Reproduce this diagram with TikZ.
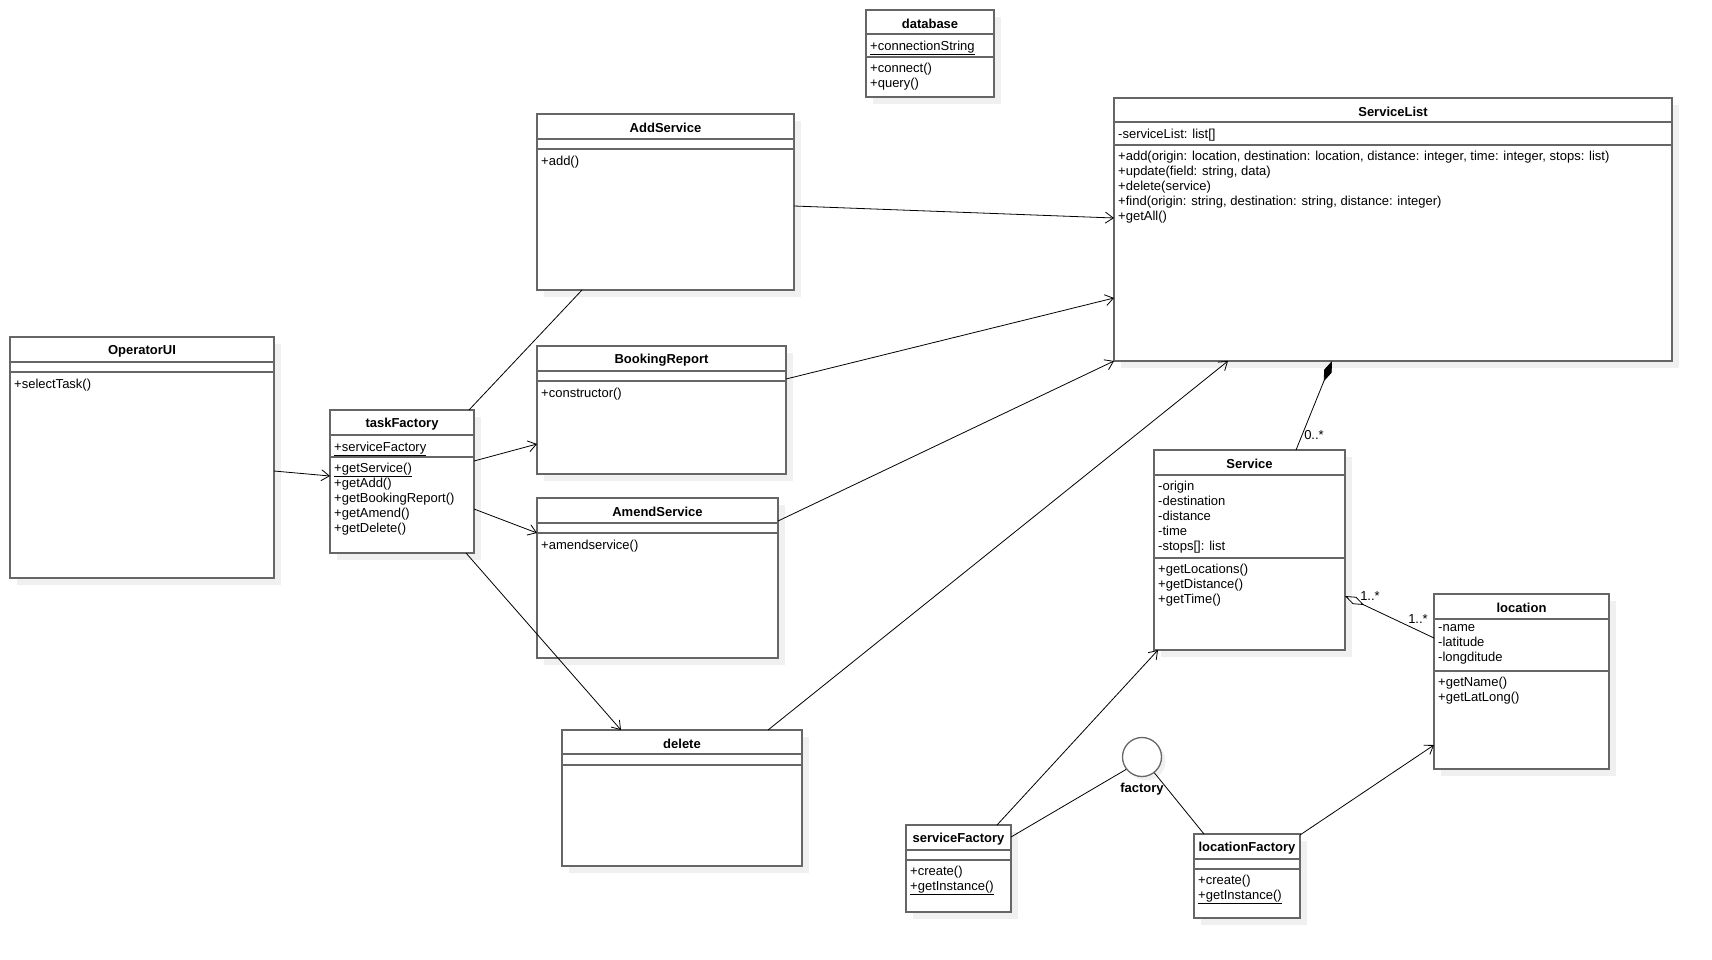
\documentclass[tikz,border=0pt]{standalone}
\usepackage{fontspec}
\setmainfont{Liberation Sans}
\usetikzlibrary{arrows.meta,fit}
\definecolor{framec}{gray}{0.4}
\definecolor{shadowc}{gray}{0.94}
\tikzset{
  frame/.style={draw=framec, line width=1.3pt, inner sep=0pt, outer sep=0pt},
  ctitle/.style={font=\fontsize{13}{15}\selectfont\bfseries, inner sep=0pt},
  members/.style={font=\fontsize{13}{15}\selectfont, align=left, anchor=north west,
    inner sep=0pt, execute at begin node=\strut},
  mult/.style={font=\fontsize{13}{15}\selectfont, inner sep=0pt},
  link/.style={draw=black, line width=0.8pt},
  dep/.style={link, -{Straight Barb[length=8pt,width=11pt]}},
  compose/.style={link, -{Diamond[length=22pt,width=8pt]}},
  aggregate/.style={link, -{Diamond[open,length=21pt,width=8pt]}},
}
% class box: name, x1, y1, x2, y2, header line, attribute line, title
\newcommand{\umlclass}[8]{%
  \fill[shadowc] ({#2+7},{#3+7}) rectangle ({#4+7},{#5+7});
  \node[frame, fill=white, fit={(#2,#3) (#4,#5)}] (#1) {};
  \draw[framec, line width=1.3pt] (#2,#6) -- (#4,#6) (#2,#7) -- (#4,#7);
  \node[ctitle] (#1-title) at ({(#2+#4)/2},{(#3+#6)/2+1.5}) {#8};
  \coordinate (#1-a) at ({#2+4},{#6+5.5});
  \coordinate (#1-o) at ({#2+4},{#7+5.5});
}
\begin{document}
\begin{tikzpicture}[x=1pt,y=-1pt]
\useasboundingbox (0,0) rectangle (1712,959);

% classes
\umlclass{db}{866}{10}{994}{97}{34}{57}{database}
\node[members] (db-attr) at (db-a) {\underline{+connectionString}};
\node[members] (db-ops) at (db-o) {+connect()\\+query()};

\umlclass{opui}{10}{337}{274}{578}{362}{372}{OperatorUI}
\node[members] (opui-ops) at (opui-o) {+selectTask()};

\umlclass{tf}{330}{410}{474}{553}{435}{457}{taskFactory}
\node[members] (tf-attr) at (tf-a) {\underline{+serviceFactory}};
\node[members] (tf-ops) at (tf-o) {\underline{+getService()}\\+getAdd()\\+getBookingReport()\\+getAmend()\\+getDelete()};

\umlclass{add}{537}{114}{794}{290}{139}{149}{AddService}
\node[members] (add-ops) at (add-o) {+add()};

\umlclass{book}{537}{346}{786}{474}{371}{381}{BookingReport}
\node[members] (book-ops) at (book-o) {+constructor()};

\umlclass{amend}{537}{498}{778}{658}{523}{533}{AmendService}
\node[members] (amend-ops) at (amend-o) {+amendservice()};

\umlclass{del}{562}{730}{802}{866}{754}{765}{delete}

\umlclass{sl}{1114}{98}{1672}{361}{122}{145}{ServiceList}
\node[members] (sl-attr) at (sl-a) {-serviceList: list[]};
\node[members] (sl-ops) at (sl-o) {+add(origin: location, destination: location, distance: integer, time: integer, stops: list)\\+update(field: string, data)\\+delete(service)\\+find(origin: string, destination: string, distance: integer)\\+getAll()};

\umlclass{svc}{1154}{450}{1345}{650}{475}{558}{Service}
\node[members] (svc-attr) at (svc-a) {-origin\\-destination\\-distance\\-time\\-stops[]: list};
\node[members] (svc-ops) at (svc-o) {+getLocations()\\+getDistance()\\+getTime()};

\umlclass{loc}{1434}{594}{1609}{769}{619}{671}{location}
\node[members] (loc-attr) at (loc-a) {-name\\-latitude\\-longditude};
\node[members] (loc-ops) at (loc-o) {+getName()\\+getLatLong()};

\umlclass{sf}{906}{825}{1011}{912}{850}{860}{serviceFactory}
\node[members] (sf-ops) at (sf-o) {+create()\\\underline{+getInstance()}};

\umlclass{lf}{1194}{834}{1300}{918}{859}{869}{locationFactory}
\node[members] (lf-ops) at (lf-o) {+create()\\\underline{+getInstance()}};

% interface
\fill[shadowc] (1146,761) circle (19.5);
\node[circle, draw=framec, line width=1.3pt, fill=white, minimum size=39pt, inner sep=0pt] (fac) at (1142,757) {};
\node[ctitle] (fac-label) at (1142,789) {factory};

% connectors
\draw[dep] ([shift={(264,134)}]opui.north west) -- ([shift={(0,66)}]tf.north west);
\draw[link] ([shift={(139,0)}]tf.north west) -- ([shift={(45,176)}]add.north west);
\draw[dep] ([shift={(144,51)}]tf.north west) -- ([shift={(0,98)}]book.north west);
\draw[dep] ([shift={(144,99)}]tf.north west) -- ([shift={(0,35)}]amend.north west);
\draw[dep] ([shift={(136,143)}]tf.north west) -- ([shift={(59,0)}]del.north west);

\draw[dep] ([shift={(257,92)}]add.north west) -- ([shift={(0,120)}]sl.north west);
\draw[dep] ([shift={(249,33)}]book.north west) -- ([shift={(0,200)}]sl.north west);
\draw[dep] ([shift={(241,23)}]amend.north west) -- (sl.south west);
\draw[dep] ([shift={(206,0)}]del.north west) -- ([shift={(114,263)}]sl.north west);

\draw[compose] ([shift={(142,0)}]svc.north west) -- ([shift={(218,263)}]sl.north west);
\node[mult] (m-comp) at (1314,435) {0..*};

\draw[aggregate] ([shift={(0,44)}]loc.north west) -- ([shift={(191,146)}]svc.north west);
\node[mult] (m-agg-svc) at (1370,596) {1..*};
\node[mult] (m-agg-loc) at (1418,619) {1..*};

\draw[dep] ([shift={(91,0)}]sf.north west) -- ([shift={(4,200)}]svc.north west);
\draw[link] ([shift={(105,12)}]sf.north west) -- (fac.218);
\draw[link] (fac.308) -- ([shift={(10,0)}]lf.north west);
\draw[dep] ([shift={(106,1)}]lf.north west) -- ([shift={(0,151)}]loc.north west);
\end{tikzpicture}
\end{document}
